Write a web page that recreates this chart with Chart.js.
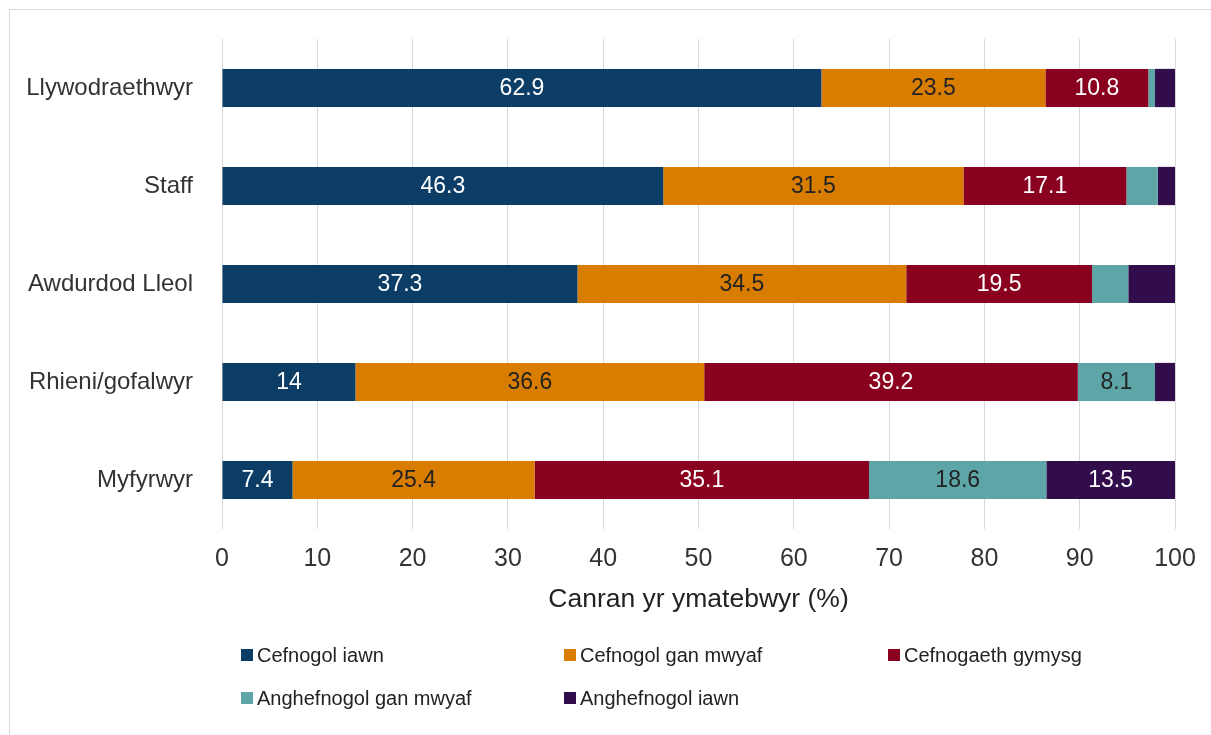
<!DOCTYPE html>
<html>
<head>
<meta charset="utf-8">
<script src="https://cdn.jsdelivr.net/npm/chart.js@4"></script>
<style>
  html, body { margin: 0; padding: 0; background: #fff; overflow: hidden; }
  #frame { position: absolute; left: 9px; top: 9px; width: 1220px; height: 740px; border: 1px solid #d9d9d9; }
  #wrap { position: absolute; left: 0; top: 0; width: 1211px; height: 735px; }
</style>
</head>
<body>
<div id="frame"></div>
<div id="wrap"><canvas id="barChart" width="1211" height="735"></canvas></div>
<script>
  const groups = ["Llywodraethwyr", "Staff", "Awdurdod Lleol", "Rhieni/gofalwyr", "Myfyrwyr"];
  const seriesNames = ["Cefnogol iawn", "Cefnogol gan mwyaf", "Cefnogaeth gymysg", "Anghefnogol gan mwyaf", "Anghefnogol iawn"];
  const cefnogolIawn = [62.9, 46.3, 37.3, 14, 7.4];
  const cefnogolGanMwyaf = [23.5, 31.5, 34.5, 36.6, 25.4];
  const cefnogaethGymysg = [10.8, 17.1, 19.5, 39.2, 35.1];
  const anghefnogolGanMwyaf = [0.7, 3.3, 3.8, 8.1, 18.6];
  const anghefnogolIawn = [2.1, 1.8, 4.9, 2.1, 13.5];
  const xTicks = [0, 10, 20, 30, 40, 50, 60, 70, 80, 90, 100];

  var colors = ["#0b3d67", "#d87d00", "#8a001f", "#5ea5a8", "#320d4c"];
  var labelColors = ["#ffffff", "#222222", "#ffffff", "#222222", "#ffffff"];
  var values = [cefnogolIawn, cefnogolGanMwyaf, cefnogaethGymysg, anghefnogolGanMwyaf, anghefnogolIawn];
  var font = "'Liberation Sans', Arial, sans-serif";

  // labels inside the bars, only where there is room
  var barLabels = {
    id: "barLabels",
    afterDatasetsDraw(chart) {
      var ctx = chart.ctx;
      ctx.save();
      ctx.font = "23px " + font;
      ctx.textAlign = "center";
      ctx.textBaseline = "middle";
      chart.data.datasets.forEach(function (ds, i) {
        chart.getDatasetMeta(i).data.forEach(function (bar, j) {
          var v = ds.data[j];
          if (v < 5) return;
          ctx.fillStyle = labelColors[i];
          ctx.fillText(String(v), (bar.x + bar.base) / 2, bar.y + 1);
        });
      });
      ctx.restore();
    }
  };

  // legend in three columns under the axis title
  var gridLegend = {
    id: "gridLegend",
    afterDraw(chart) {
      var ctx = chart.ctx;
      var cols = [243, 566, 890];
      var rows = [655, 698];
      ctx.save();
      ctx.font = "20px " + font;
      ctx.textBaseline = "middle";
      ctx.textAlign = "left";
      chart.data.datasets.forEach(function (ds, i) {
        var x = cols[i % 3];
        var y = rows[Math.floor(i / 3)];
        ctx.fillStyle = ds.backgroundColor;
        ctx.fillRect(x - 2, y - 6, 12, 12);
        ctx.fillStyle = "#222";
        ctx.fillText(ds.label, x + 14, y + 1);
      });
      ctx.restore();
    }
  };

  var datasets = seriesNames.map(function (name, i) {
    return {
      label: name,
      data: values[i],
      backgroundColor: colors[i],
      borderWidth: 0,
      barPercentage: 0.39,
      categoryPercentage: 1
    };
  });

  var ctx = document.getElementById("barChart").getContext("2d");
  new Chart(ctx, {
    type: "bar",
    data: { labels: groups, datasets: datasets },
    plugins: [barLabels, gridLegend],
    options: {
      indexAxis: "y",
      responsive: false,
      animation: false,
      layout: { padding: { left: 0, top: 39, right: 36, bottom: 119 } },
      plugins: { legend: { display: false }, tooltip: { enabled: false } },
      scales: {
        x: {
          stacked: true,
          min: 0,
          max: 100,
          afterBuildTicks: function (scale) {
            scale.ticks = xTicks.map(function (v) { return { value: v }; });
          },
          afterFit: function (scale) { scale.height = 87; },
          grid: { color: "#d9d9d9", drawTicks: false },
          border: { display: false },
          ticks: { color: "#333", padding: 15, font: { family: font, size: 25 } },
          title: {
            display: true,
            text: "Canran yr ymatebwyr (%)",
            color: "#222",
            padding: { top: 0, bottom: 0 },
            font: { family: font, size: 26.5 }
          }
        },
        y: {
          stacked: true,
          afterFit: function (scale) {
            scale.width = 222;
            scale.paddingTop = 0;
            scale.paddingBottom = 0;
          },
          grid: { display: false, drawTicks: false },
          border: { display: false },
          ticks: { color: "#333", padding: 29, font: { family: font, size: 24 } }
        }
      }
    }
  });
</script>
</body>
</html>
